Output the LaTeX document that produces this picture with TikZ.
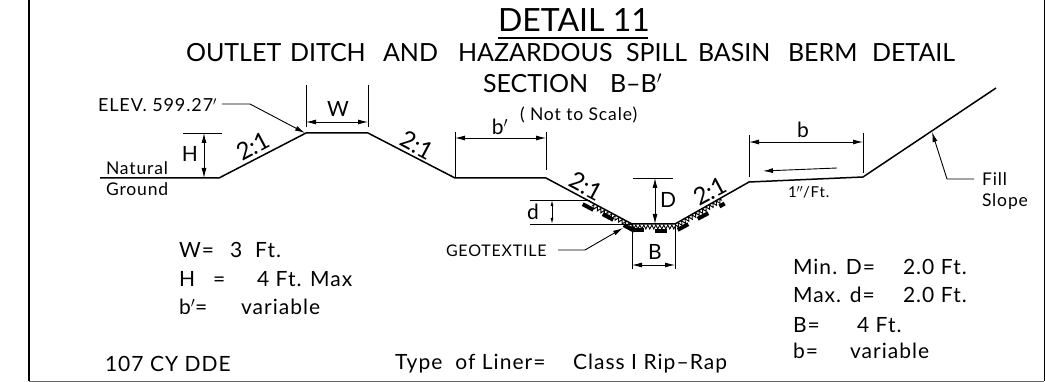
\documentclass[tikz,border=0pt]{standalone}
\usepackage{fontspec}
\setmainfont{Lato}
\newfontfamily\widefont[LetterSpace=5]{Lato}
\usepackage{tikz}
\usetikzlibrary{arrows.meta,decorations.pathmorphing}
\tikzset{
  lbl/.style={anchor=base west,inner sep=0pt,outer sep=0pt},
  mid/.style={anchor=base,inner sep=0pt,outer sep=0pt},
  head/.style={font=\fontsize{25}{25}\selectfont},
  big/.style={font=\fontsize{21}{21}\selectfont},
  ratio/.style={font=\fontsize{24}{24}\selectfont,inner sep=0pt},
  note/.style={font=\widefont\fontsize{21}{21}\selectfont},
  label/.style={font=\widefont\fontsize{17.5}{17.5}\selectfont},
  ground/.style={black,line width=1.5pt},
  thin line/.style={black,line width=0.9pt},
  dim/.style={black,line width=0.9pt,<->},
  rock/.style={black,line width=0.9pt,decorate,decoration={zigzag,amplitude=2pt,segment length=4pt}},
  block/.style={fill=black,minimum width=12pt,minimum height=4pt,inner sep=0pt,outer sep=0pt}
}

\begin{document}
\begin{tikzpicture}[x=1pt,y=-1pt,>={Latex[length=10pt,width=5pt]}]
\useasboundingbox (0,0) rectangle (1045,382);

    % frame
    \draw[black,line width=1.3pt] (29,0) -- (29,381);
    \draw[black,line width=0.9pt] (1044,0) -- (1044,381);
    \draw[black!60,line width=1pt] (29,381) -- (1044,381);

    % titles
    \node[lbl,font=\fontsize{32}{32}\selectfont] (title) at (498,32) {DETAIL 11};
    \draw[black,line width=1.2pt] (498,38) -- (648,38);
    \node[lbl,head] (sub1) at (186,62) {OUTLET};
    \node[lbl,head] (sub2) at (290,62) {DITCH};
    \node[lbl,head] (sub3) at (383,62) {AND};
    \node[lbl,head] (sub4) at (458,62) {HAZARDOUS};
    \node[lbl,head] (sub5) at (626,62) {SPILL};
    \node[lbl,head] (sub6) at (698,62) {BASIN};
    \node[lbl,head] (sub7) at (788,62) {BERM};
    \node[lbl,head] (sub8) at (872,62) {DETAIL};
    \node[lbl,head] (section) at (483,93) {SECTION};
    \node[lbl,head] (sectionb) at (610,93) {B–B$'$};
    \node[lbl,label] (scale) at (520,121) {( Not to\ Scale)};

    % ground line
    \draw[ground] (100,178) -- (219,178) -- (306,133) -- (368,133) -- (455,178) -- (546,178)
        -- (632,224) -- (675,224) -- (749,182) -- (863,177) -- (996,88);

    % rip-rap
    \draw[rock] (592,206) -- (632,227) -- (675,227) -- (722,200);
    \foreach \px/\py/\ang in {588/207/-28,608/217/-28,629/228/-28,638/230/0,661/231/0,683/227/28,703/216/28}
        \node[block,rotate=\ang] (rip\px) at (\px,\py) {};
    \node[block,rotate=28,minimum width=6pt] (ripend) at (722,205) {};

    % W
    \draw[thin line] (306,85) -- (306,127);
    \draw[thin line] (368,85) -- (368,127);
    \draw[dim] (306,122) -- (368,122);
    \node[mid,big] (wlabel) at (338,117) {W};

    % H
    \draw[thin line] (183,133) -- (222,133);
    \draw[dim] (204,133) -- (204,178);
    \node[mid,big] (hlabel) at (190,162) {H};

    % b'
    \draw[thin line] (455,132) -- (455,178);
    \draw[thin line] (546,132) -- (546,170);
    \draw[dim] (455,138) -- (546,138);
    \node[mid,big] (bplabel) at (500,135) {b$'$};

    % b
    \draw[thin line] (749,135) -- (749,177);
    \draw[thin line] (863,133) -- (863,173);
    \draw[dim] (749,142) -- (863,142);
    \node[mid,big] (blabel) at (803,138) {b};
    \draw[thin line,->] (837,168) -- (763,171);
    \node[lbl,font=\widefont\fontsize{15}{15}\selectfont] (slope) at (788,198) {1$''$/Ft.};

    % D
    \draw[thin line] (633,178) -- (673,178);
    \draw[dim] (655,178) -- (655,224);
    \node[mid,big] (dlabel) at (668,208) {D};

    % d
    \draw[thin line] (530,200) -- (590,200);
    \draw[thin line] (530,224) -- (632,224);
    \draw[thin line,<->,>={Latex[length=6pt,width=3pt]}] (552,200) -- (552,224);
    \node[mid,big] (dsmall) at (533,220) {d};

    % B
    \draw[thin line] (632,224) -- (632,269);
    \draw[thin line] (675,224) -- (675,269);
    \draw[dim] (632,265) -- (675,265);
    \node[mid,big] (bsmall) at (655,260) {B};

    % slopes
    \node[ratio,rotate=28] (slopea) at (253,146) {2:1};
    \node[ratio,rotate=-28] (slopeb) at (417,145) {2:1};
    \node[ratio,rotate=-28] (slopec) at (586,186) {2:1};
    \node[ratio,rotate=28] (sloped) at (710,191) {2:1};

    % callouts
    \node[lbl,label,font=\widefont\fontsize{18}{18}\selectfont] (elev) at (98,112) {ELEV. 599.27$'$};
    \draw[thin line,->] (222,104) -- (250,104) -- (305,133);
    \node[lbl,label] (natural) at (106,175) {Natural};
    \node[lbl,label] (groundtxt) at (106,196) {Ground};
    \node[lbl,label] (fill) at (982,186) {Fill};
    \node[lbl,label] (fillslope) at (982,207) {Slope};
    \draw[thin line,->] (974,179) -- (947,179) -- (932,132);
    \node[lbl,font=\widefont\fontsize{16}{16}\selectfont] (geotextile) at (446,257) {GEOTEXTILE};
    \draw[thin line,->] (558,250) -- (585,250) -- (623,228);

    % left notes
    \node[lbl,note] (wnote) at (179,258) {W=};
    \node[lbl,note] (wval) at (230,258) {3\ \ Ft.};
    \node[lbl,note] (hnote) at (179,287) {H};
    \node[lbl,note] (heq) at (213,287) {=};
    \node[lbl,note] (hval) at (257,287) {4\ Ft. Max};
    \node[lbl,note] (bpnote) at (179,315) {b$'$=};
    \node[lbl,note] (bpval) at (241,315) {variable};

    % right notes
    \node[lbl,note] (dnote) at (793,275) {Min. D=};
    \node[lbl,note] (dval) at (903,275) {2.0\ Ft.};
    \node[lbl,note] (dsnote) at (793,303) {Max. d=};
    \node[lbl,note] (dsval) at (903,303) {2.0\ Ft.};
    \node[lbl,note] (bnote) at (793,332) {B=};
    \node[lbl,note] (bval) at (857,332) {4\ Ft.};
    \node[lbl,note] (bsnote) at (793,359) {b=};
    \node[lbl,note] (bsval) at (850,359) {variable};

    % bottom line
    \node[lbl,note] (volume) at (105,371) {107\ CY\ DDE};
    \node[lbl,note] (liner) at (395,369) {Type\ \ of Liner=};
    \node[lbl,note] (linerval) at (573,369) {Class I Rip–Rap};

\end{tikzpicture}
\end{document}
